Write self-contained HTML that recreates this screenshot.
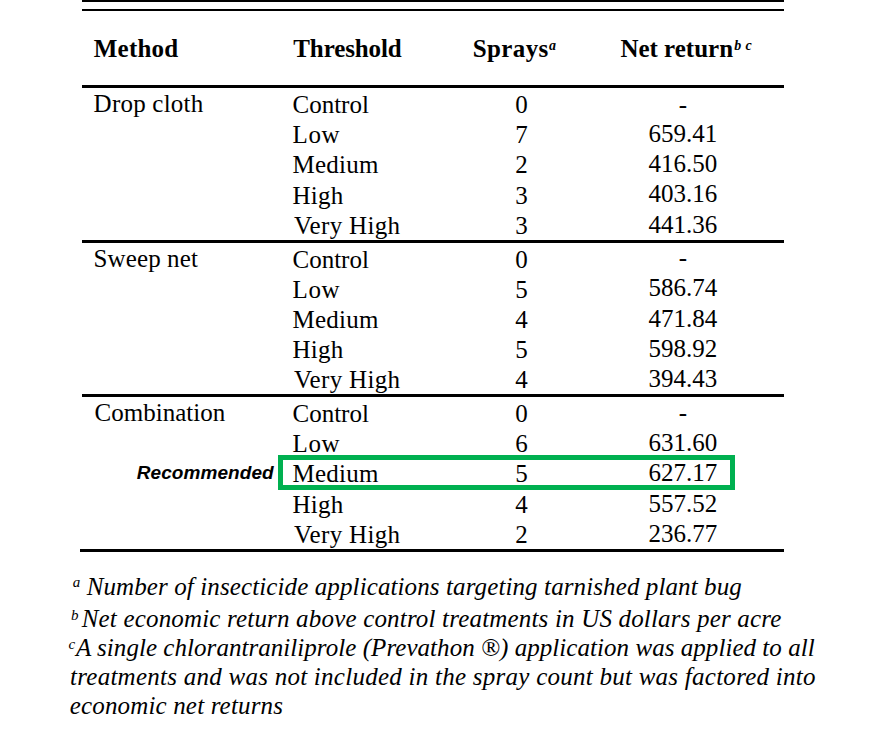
<!DOCTYPE html>
<html><head><meta charset="utf-8"><title>Table</title><style>
html,body{margin:0;padding:0;background:#fff;}
svg{display:block;}
.b{font-family:"Liberation Serif", "Times New Roman", serif;font-size:25px;fill:#000;}
.hb{font-family:"Liberation Serif", "Times New Roman", serif;font-size:25px;font-weight:700;fill:#000;}
.sup{font-family:"Liberation Serif", "Times New Roman", serif;font-size:14px;font-weight:700;font-style:italic;fill:#000;}
.rec{font-family:"Liberation Sans", Arial, sans-serif;font-size:19px;font-weight:700;font-style:italic;fill:#000;}
.f{font-family:"Liberation Serif", "Times New Roman", serif;font-size:25px;font-style:italic;fill:#000;}
.fsup{font-family:"Liberation Serif", "Times New Roman", serif;font-size:15px;font-style:italic;fill:#000;}
</style></head><body>
<svg width="869" height="741" viewBox="0 0 869 741">
<rect x="0" y="0" width="869" height="741" fill="#fff"/>
<rect x="82" y="0" width="702" height="2" fill="#000"/>
<rect x="82" y="9" width="702" height="2" fill="#000"/>
<rect x="82" y="85" width="702" height="3" fill="#000"/>
<rect x="82" y="240" width="702" height="3" fill="#000"/>
<rect x="82" y="394" width="702" height="3" fill="#000"/>
<rect x="80" y="549" width="704" height="3" fill="#000"/>
<rect x="280.5" y="457.5" width="452" height="30" fill="none" stroke="#00B050" stroke-width="5"/>
<text class="hb" x="93.70" y="57" textLength="84.53" lengthAdjust="spacing">Method</text>
<text class="hb" x="293.30" y="57" textLength="108.31" lengthAdjust="spacing">Threshold</text>
<text class="hb" x="472.80" y="57" textLength="75.44" lengthAdjust="spacing">Sprays</text>
<text class="sup" x="549.00" y="50">a</text>
<text class="hb" x="620.40" y="57">Net return</text>
<text class="sup" x="734.30" y="50">b</text>
<text class="sup" x="745.50" y="50">c</text>
<text class="b" x="93.60" y="112" textLength="109.62" lengthAdjust="spacing">Drop cloth</text>
<text class="b" x="292.50" y="113">Control</text>
<text class="b" x="521.50" y="113" text-anchor="middle">0</text>
<text class="b" x="682.80" y="113" text-anchor="middle">-</text>
<text class="b" x="292.60" y="143" textLength="47.03" lengthAdjust="spacing">Low</text>
<text class="b" x="521.50" y="143" text-anchor="middle">7</text>
<text class="b" x="682.80" y="142" text-anchor="middle">659.41</text>
<text class="b" x="292.40" y="173" textLength="86.12" lengthAdjust="spacing">Medium</text>
<text class="b" x="521.50" y="173" text-anchor="middle">2</text>
<text class="b" x="682.80" y="172" text-anchor="middle">416.50</text>
<text class="b" x="292.40" y="204" textLength="50.90" lengthAdjust="spacing">High</text>
<text class="b" x="521.50" y="204" text-anchor="middle">3</text>
<text class="b" x="682.80" y="202" text-anchor="middle">403.16</text>
<text class="b" x="294.00" y="234" textLength="105.97" lengthAdjust="spacing">Very High</text>
<text class="b" x="521.50" y="234" text-anchor="middle">3</text>
<text class="b" x="682.80" y="233" text-anchor="middle">441.36</text>
<text class="b" x="93.60" y="267" textLength="104.25" lengthAdjust="spacing">Sweep net</text>
<text class="b" x="292.50" y="268">Control</text>
<text class="b" x="521.50" y="268" text-anchor="middle">0</text>
<text class="b" x="682.80" y="266" text-anchor="middle">-</text>
<text class="b" x="292.60" y="298" textLength="47.03" lengthAdjust="spacing">Low</text>
<text class="b" x="521.50" y="298" text-anchor="middle">5</text>
<text class="b" x="682.80" y="296" text-anchor="middle">586.74</text>
<text class="b" x="292.40" y="328" textLength="86.12" lengthAdjust="spacing">Medium</text>
<text class="b" x="521.50" y="328" text-anchor="middle">4</text>
<text class="b" x="682.80" y="327" text-anchor="middle">471.84</text>
<text class="b" x="292.40" y="358" textLength="50.90" lengthAdjust="spacing">High</text>
<text class="b" x="521.50" y="358" text-anchor="middle">5</text>
<text class="b" x="682.80" y="357" text-anchor="middle">598.92</text>
<text class="b" x="294.00" y="388" textLength="105.97" lengthAdjust="spacing">Very High</text>
<text class="b" x="521.50" y="388" text-anchor="middle">4</text>
<text class="b" x="682.80" y="387" text-anchor="middle">394.43</text>
<text class="b" x="94.60" y="421">Combination</text>
<text class="b" x="292.50" y="422">Control</text>
<text class="b" x="521.50" y="422" text-anchor="middle">0</text>
<text class="b" x="682.80" y="421" text-anchor="middle">-</text>
<text class="b" x="292.60" y="452" textLength="47.03" lengthAdjust="spacing">Low</text>
<text class="b" x="521.50" y="452" text-anchor="middle">6</text>
<text class="b" x="682.80" y="451" text-anchor="middle">631.60</text>
<text class="b" x="292.40" y="482" textLength="86.12" lengthAdjust="spacing">Medium</text>
<text class="b" x="521.50" y="482" text-anchor="middle">5</text>
<text class="b" x="682.80" y="481" text-anchor="middle">627.17</text>
<text class="b" x="292.40" y="513" textLength="50.90" lengthAdjust="spacing">High</text>
<text class="b" x="521.50" y="513" text-anchor="middle">4</text>
<text class="b" x="682.80" y="512" text-anchor="middle">557.52</text>
<text class="b" x="294.00" y="543" textLength="105.97" lengthAdjust="spacing">Very High</text>
<text class="b" x="521.50" y="543" text-anchor="middle">2</text>
<text class="b" x="682.80" y="542" text-anchor="middle">236.77</text>
<text class="rec" x="136.75" y="479" textLength="136.95" lengthAdjust="spacing">Recommended</text>
<text class="fsup" x="72.70" y="587">a</text>
<text class="f" x="86.70" y="595" textLength="655.13" lengthAdjust="spacing">Number of insecticide applications targeting tarnished plant bug</text>
<text class="fsup" x="71.00" y="619.5">b</text>
<text class="f" x="81.70" y="627" textLength="699.64" lengthAdjust="spacing">Net economic return above control treatments in US dollars per acre</text>
<text class="fsup" x="68.40" y="649">c</text>
<text class="f" x="75.90" y="656" textLength="738.79" lengthAdjust="spacing">A single chlorantraniliprole (Prevathon ®) application was applied to all</text>
<text class="f" x="70.00" y="685" textLength="745.47" lengthAdjust="spacing">treatments and was not included in the spray count but was factored into</text>
<text class="f" x="69.70" y="714" textLength="213.24" lengthAdjust="spacing">economic net returns</text>
</svg>
</body></html>
